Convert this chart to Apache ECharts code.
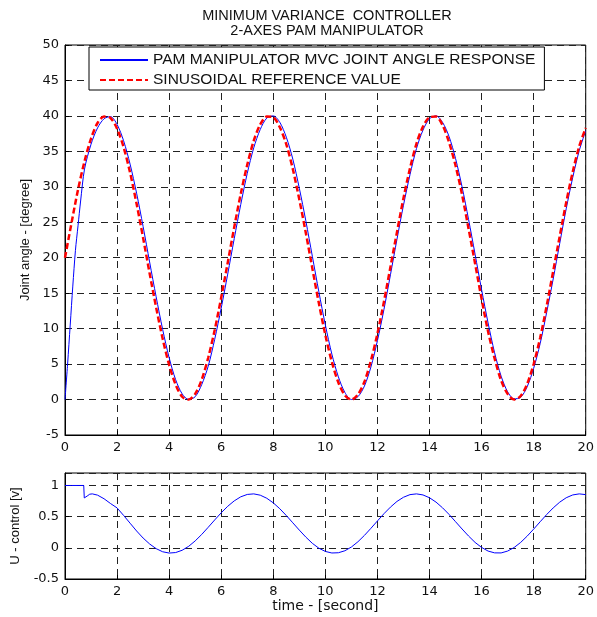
<!DOCTYPE html>
<html><head><meta charset="utf-8">
<script src="https://cdn.jsdelivr.net/npm/echarts@6/dist/echarts.min.js"></script>
<style>html,body{margin:0;padding:0;background:#fff}#c{width:597px;height:617px}</style>
</head><body><div id="c"></div>
<script>
// Data
var titleLines = ['MINIMUM VARIANCE  CONTROLLER', '2-AXES PAM MANIPULATOR'];
var legendNames = ['PAM MANIPULATOR MVC JOINT ANGLE RESPONSE', 'SINUSOIDAL REFERENCE VALUE'];
var xAxisName = 'time - [second]';
var yAxisNameTop = 'Joint angle - [degree]';
var yAxisNameBottom = 'U - control [v]';

var refTime = [0,0.25,0.5,0.75,1,1.25,1.5,1.75,2,2.25,2.5,2.75,3,3.25,3.5,3.75,4,4.25,4.5,4.75,5,5.25,5.5,5.75,6,6.25,6.5,6.75,7,7.25,7.5,7.75,8,8.25,8.5,8.75,9,9.25,9.5,9.75,10,10.25,10.5,10.75,11,11.25,11.5,11.75,12,12.25,12.5,12.75,13,13.25,13.5,13.75,14,14.25,14.5,14.75,15,15.25,15.5,15.75,16,16.25,16.5,16.75,17,17.25,17.5,17.75,18,18.25,18.5,18.75,19,19.25,19.5,19.75,20];
var refValue = [20,24.9,29.6,33.6,36.8,39.0,39.9,39.7,38.2,35.6,32.0,27.6,22.8,17.8,13.0,8.6,4.9,2.1,0.4,0.0,0.8,2.8,5.9,9.8,14.4,19.3,24.3,29.0,33.1,36.5,38.8,39.9,39.8,38.4,36.0,32.5,28.2,23.5,18.5,13.6,9.1,5.3,2.4,0.6,0.0,0.7,2.5,5.5,9.3,13.8,18.7,23.6,28.4,32.6,36.1,38.5,39.8,39.9,38.7,36.3,33.0,28.9,24.1,19.2,14.2,9.6,5.8,2.7,0.8,0.0,0.5,2.2,5.0,8.7,13.2,18.1,23.0,27.8,32.1,35.7,38.3];

var respTime = [0,0.1,0.2,0.3,0.4,0.5,0.6,0.75,1,1.25,1.5,1.75,2,2.25,2.5,2.75,3,3.25,3.5,3.75,4,4.25,4.5,4.75,5,5.25,5.5,5.75,6,6.25,6.5,6.75,7,7.25,7.5,7.75,8,8.25,8.5,8.75,9,9.25,9.5,9.75,10,10.25,10.5,10.75,11,11.25,11.5,11.75,12,12.25,12.5,12.75,13,13.25,13.5,13.75,14,14.25,14.5,14.75,15,15.25,15.5,15.75,16,16.25,16.5,16.75,17,17.25,17.5,17.75,18,18.25,18.5,18.75,19,19.25,19.5,19.75,20];
var respValue = [0,5,10.5,16,21,24.5,28,32.5,36,38.3,39.6,39.9,38.8,36.5,33.2,29.1,24.4,19.4,14.5,9.9,5.9,2.8,0.8,0.0,0.4,2.1,4.7,8.5,12.9,17.7,22.7,27.5,31.9,35.5,38.1,39.7,40.0,39.1,37.0,33.9,29.8,25.2,20.2,15.2,10.5,6.4,3.2,1.0,0.0,0.4,1.9,4.6,8.3,12.7,17.6,22.6,27.4,31.7,35.4,38.0,39.6,40.0,39.1,37.1,34.0,30.0,25.4,20.5,15.5,10.8,6.6,3.3,1.1,0.1,0.3,1.8,4.4,7.9,12.3,17.0,22.0,26.9,31.3,35.1,37.9];

var uTime = [0,0.25,0.5,0.72,0.74,0.78,0.85,0.95,1.05,1.25,1.5,1.75,2,2.25,2.5,2.75,3,3.25,3.5,3.75,4,4.25,4.5,4.75,5,5.25,5.5,5.75,6,6.25,6.5,6.75,7,7.25,7.5,7.75,8,8.25,8.5,8.75,9,9.25,9.5,9.75,10,10.25,10.5,10.75,11,11.25,11.5,11.75,12,12.25,12.5,12.75,13,13.25,13.5,13.75,14,14.25,14.5,14.75,15,15.25,15.5,15.75,16,16.25,16.5,16.75,17,17.25,17.5,17.75,18,18.25,18.5,18.75,19,19.25,19.5,19.75,20];
var uValue = [1,1,1,1,0.8,0.78,0.83,0.86,0.865,0.845,0.787,0.710,0.640,0.520,0.395,0.270,0.157,0.062,-0.013,-0.063,-0.084,-0.076,-0.039,0.024,0.111,0.214,0.329,0.447,0.562,0.666,0.753,0.818,0.856,0.865,0.844,0.795,0.721,0.627,0.518,0.401,0.284,0.172,0.072,-0.006,-0.058,-0.083,-0.079,-0.047,0.013,0.097,0.199,0.313,0.431,0.547,0.653,0.744,0.811,0.853,0.865,0.848,0.803,0.733,0.642,0.536,0.419,0.302,0.189,0.087,0.006,-0.052,-0.081,-0.082,-0.052,0.005,0.086,0.187,0.300,0.418,0.534,0.640,0.732,0.803,0.848,0.865,0.853];

function zip(a, b) { var r = []; for (var i = 0; i < a.length; i++) r.push([a[i], b[i]]); return r; }

var SANS = 'Liberation Sans, Arial, sans-serif';
var WIDE = 'DejaVu Sans, sans-serif';
var gridLine = { show: true, lineStyle: { color: '#222', type: [7, 5], width: 1 } };
var axisLineStyle = { show: true, onZero: false, lineStyle: { color: '#000', width: 1 } };
var tickStyle = { show: true, inside: true, length: 4, lineStyle: { color: '#000' } };
var labelStyle = { color: '#111', fontSize: 13, fontFamily: WIDE };

var chart = echarts.init(document.getElementById('c'), null, { renderer: 'canvas' });
chart.setOption({
  backgroundColor: '#fff',
  animation: false,
  title: {
    text: titleLines.join('\n'),
    left: 327, top: 8, padding: 0, textAlign: 'center',
    textStyle: { fontSize: 14.5, fontWeight: 'normal', color: '#111', fontFamily: SANS, lineHeight: 15 }
  },
  legend: {
    orient: 'vertical', left: 89, top: 47,
    backgroundColor: '#fff', borderColor: '#000', borderWidth: 1,
    padding: [5, 9, 2, 10], itemGap: 4, itemWidth: 48, itemHeight: 12,
    itemStyle: { opacity: 0 },
    textStyle: { fontSize: 15.5, color: '#111', fontFamily: SANS },
    data: [{ name: legendNames[0] }, { name: legendNames[1] }]
  },
  grid: [
    { left: 65, width: 524, top: 45, height: 390, show: true, borderColor: '#000', borderWidth: 1, backgroundColor: 'transparent' },
    { left: 65, width: 524, top: 473, height: 106, show: true, borderColor: '#000', borderWidth: 1, backgroundColor: 'transparent' }
  ],
  xAxis: [
    { type: 'value', gridIndex: 0, min: 0, max: 20, interval: 2, axisLine: axisLineStyle, axisTick: tickStyle, splitLine: gridLine, axisLabel: Object.assign({ margin: 6 }, labelStyle) },
    { type: 'value', gridIndex: 1, min: 0, max: 20, interval: 2, axisLine: axisLineStyle, axisTick: tickStyle, splitLine: gridLine, axisLabel: Object.assign({ margin: 6 }, labelStyle),
      name: xAxisName, nameLocation: 'middle', nameGap: 20, nameTextStyle: { fontSize: 14, color: '#111', fontFamily: WIDE } }
  ],
  yAxis: [
    { type: 'value', gridIndex: 0, min: -5, max: 50, interval: 5, axisLine: axisLineStyle, axisTick: tickStyle, splitLine: gridLine, axisLabel: Object.assign({ margin: 6 }, labelStyle),
      name: yAxisNameTop, nameLocation: 'middle', nameGap: 33, nameRotate: 90, nameTextStyle: { fontSize: 13, color: '#111', fontFamily: SANS } },
    { type: 'value', gridIndex: 1, min: -0.5, max: 1.2, interval: 0.5, axisLine: axisLineStyle, axisTick: tickStyle, splitLine: gridLine,
      axisLabel: Object.assign({ margin: 6, showMaxLabel: false, formatter: function (v) { return (Math.abs(v - 1.2) < 1e-6) ? '' : String(v); } }, labelStyle),
      name: yAxisNameBottom, nameLocation: 'middle', nameGap: 43, nameRotate: 90, nameTextStyle: { fontSize: 13, color: '#111', fontFamily: SANS } }
  ],
  series: [
    { name: legendNames[0], type: 'line', xAxisIndex: 0, yAxisIndex: 0, data: zip(respTime, respValue), symbol: 'none', smooth: 0.3,
      lineStyle: { color: '#0000ff', width: 1 }, itemStyle: { color: '#0000ff' }, z: 3 },
    { name: legendNames[1], type: 'line', xAxisIndex: 0, yAxisIndex: 0, data: zip(refTime, refValue), symbol: 'none', smooth: 0.3,
      lineStyle: { color: '#ff0000', width: 2.5, type: [6, 3] }, itemStyle: { color: '#ff0000' }, z: 4 },
    { name: 'U', type: 'line', xAxisIndex: 1, yAxisIndex: 1, data: zip(uTime, uValue), symbol: 'none',
      lineStyle: { color: '#0000ff', width: 1 }, itemStyle: { color: '#0000ff' } }
  ]
});
</script></body></html>
